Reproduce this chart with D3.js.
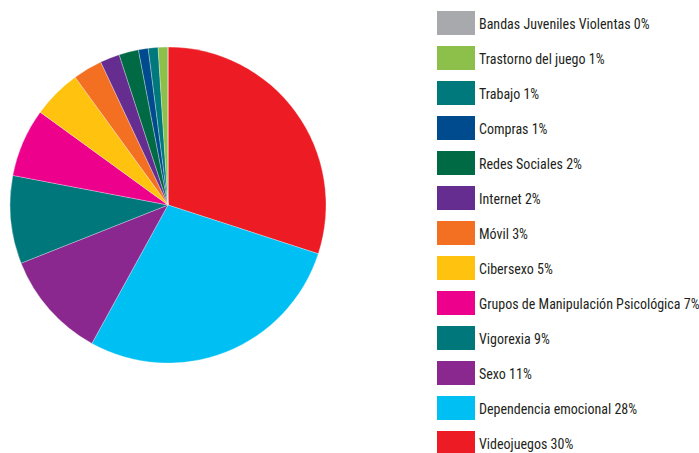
<!DOCTYPE html>
<html><head><meta charset="utf-8">
<script src="https://cdn.jsdelivr.net/npm/d3@7"></script>
<style>body{margin:0;background:#fff}</style>
</head><body><svg id="c" width="699" height="453"></svg>
<script>
const pieCategories = ["Videojuegos","Dependencia emocional","Sexo","Vigorexia","Grupos de Manipulación Psicológica","Cibersexo","Móvil","Internet","Redes Sociales","Compras","Trabajo","Trastorno del juego","Bandas Juveniles Violentas"];
const pieValues = [30,28,11,9,7,5,3,2,2,1,1,1,0];
const pieColors = ["#ED1C24","#00BFF3","#8A288F","#00777A","#EC008C","#FFC20E","#F36F21","#662D91","#006A44","#004B8D","#00797C","#8DC04A","#A7A9AC"];
const legendOrder = ["Bandas Juveniles Violentas","Trastorno del juego","Trabajo","Compras","Redes Sociales","Internet","Móvil","Cibersexo","Grupos de Manipulación Psicológica","Vigorexia","Sexo","Dependencia emocional","Videojuegos"];

const svg = d3.select("#c");
const data = pieCategories.map((c,i)=>({name:c,value:pieValues[i],color:pieColors[i]}));
const pie = d3.pie().sort(null).value(d=>d.value);
const arc = d3.arc().innerRadius(0).outerRadius(158);
const g = svg.append("g").attr("transform","translate(168,205)");
g.selectAll("path").data(pie(data)).join("path")
  .attr("d",arc).attr("fill",d=>d.data.color)
  .attr("stroke","#fff").attr("stroke-width",0.3);

const y = d3.scalePoint().domain(legendOrder).range([23,443]);
const byName = new Map(data.map(d=>[d.name,d]));
const lg = svg.append("g");
legendOrder.forEach(n=>{
  const d = byName.get(n);
  lg.append("rect").attr("x",437).attr("y",y(n)-12).attr("width",38).attr("height",24).attr("fill",d.color);
  lg.append("text").attr("x",479).attr("y",y(n)+1).attr("dy","0.35em")
    .attr("font-family","'Liberation Sans Narrow','Roboto Condensed',Roboto,sans-serif")
    .attr("font-size",14).attr("fill","#231F20")
    .text(n+" "+d.value+"%");
});
</script></body></html>
